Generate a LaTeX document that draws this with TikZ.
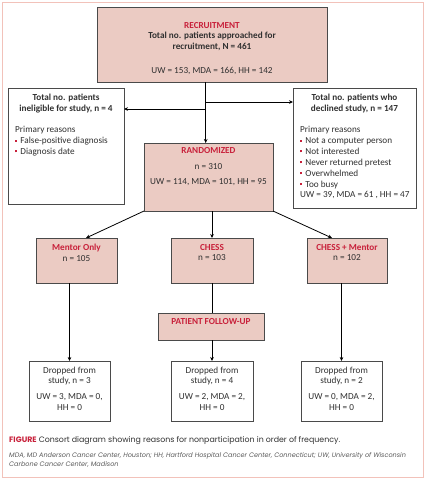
\documentclass[tikz,border=0pt]{standalone}
\usepackage{fontspec}
\setmainfont{Carlito}
\newfontfamily\capfont{Poppins}
\usetikzlibrary{arrows.meta}
\definecolor{cred}{HTML}{C8203A}
\definecolor{cfill}{HTML}{EBCBC3}
\definecolor{cgray}{HTML}{4A4A4A}
\definecolor{cframe}{HTML}{F2C2BA}
\definecolor{ctext}{HTML}{303030}
\newcommand{\bul}{\textcolor{cred}{\rule[0.2em]{0.22em}{0.22em}}\hspace{0.35em}}
\begin{document}
\begin{tikzpicture}[x=1pt,y=-1pt,
  pbox/.style={draw=cgray,line width=0.8pt,fill=cfill,inner sep=0pt,outer sep=0pt},
  wbox/.style={draw=cgray,line width=0.8pt,fill=white,inner sep=0pt,outer sep=0pt},
  txt/.style={inner sep=0pt,font=\fontsize{9.2}{10.9}\selectfont,text=ctext},
  btxt/.style={txt,font=\fontsize{9.2}{10.9}\selectfont\bfseries,align=center},
  arr/.style={line width=0.8pt,-{Stealth[length=4pt,width=3.6pt]}},
  ln/.style={line width=0.8pt}]
\useasboundingbox (0,0) rectangle (426,480);
\draw[cframe,line width=1.2pt] (2.5,2.5) rectangle (423.5,477.5);
% boxes
\node[pbox,minimum width=230,minimum height=75] (rec) at (212,44.5) {};
\node[wbox,minimum width=116,minimum height=116] (inel) at (66,146) {};
\node[wbox,minimum width=123,minimum height=120] (decl) at (354.5,148) {};
\node[pbox,minimum width=129,minimum height=68] (rand) at (208.5,177) {};
\node[pbox,minimum width=81,minimum height=45] (ment) at (76.5,260.5) {};
\node[pbox,minimum width=82,minimum height=45] (chess) at (212,260.5) {};
\node[pbox,minimum width=80,minimum height=45] (cm) at (347,260.5) {};
\node[pbox,minimum width=106,minimum height=27] (fu) at (211,326.5) {};
\node[wbox,minimum width=81,minimum height=60] (d1) at (69.5,391) {};
\node[wbox,minimum width=82,minimum height=60] (d2) at (212,391) {};
\node[wbox,minimum width=81,minimum height=60] (d3) at (341.5,391) {};
% texts
\node[btxt] (trec) at (212,48.5) {\textcolor{cred}{RECRUITMENT}\\Total no. patients approached for\\recruitment, N = 461\\[13pt]\mdseries UW = 153, MDA = 166, HH = 142};
\node[btxt] (tinel) at (66,103.5) {Total no. patients\\ineligible for study, n = 4};
\node[txt,anchor=north west,align=left] (linel) at (15,126) {Primary reasons\\\bul False-positive diagnosis\\\bul Diagnosis date};
\node[btxt] (tdecl) at (354.5,103.5) {Total no. patients who\\declined study, n = 147};
\node[txt,anchor=north west,align=left] (ldecl) at (300,126) {Primary reasons\\\bul Not a computer person\\\bul Not interested\\\bul Never returned pretest\\\bul Overwhelmed\\\bul Too busy\\ UW = 39, MDA = 61 , HH = 47};
\node[btxt] (trand) at (208.5,166.5) {\textcolor{cred}{RANDOMIZED}\\[5pt]\mdseries n = 310\\[4.5pt]\mdseries UW = 114, MDA = 101, HH = 95};
\node[btxt] (tment) at (76.5,252.5) {\textcolor{cred}{Mentor Only}\\\mdseries n = 105};
\node[btxt] (tchess) at (212,252.5) {\textcolor{cred}{CHESS}\\\mdseries n = 103};
\node[btxt] (tcm) at (347,252.5) {\textcolor{cred}{CHESS + Mentor}\\\mdseries n = 102};
\node[btxt] (tfu) at (211,322) {\textcolor{cred}{PATIENT FOLLOW-UP}};
\node[txt,align=center] (td1) at (69.5,388.5) {Dropped from\\study, n = 3\\[4.5pt]UW = 3, MDA = 0,\\HH = 0};
\node[txt,align=center] (td2) at (212,388.5) {Dropped from\\study, n = 4\\[4.5pt]UW = 2, MDA = 2,\\HH = 0};
\node[txt,align=center] (td3) at (341.5,388.5) {Dropped from\\study, n = 2\\[4.5pt]UW = 0, MDA = 2,\\HH = 0};
% connectors
\coordinate (jx) at (205.7,0);
\coordinate (jl) at (205.7,109);
\coordinate (jr) at (205.7,102);
\coordinate (mx) at (86,0);
\coordinate (cx) at (332,0);
\draw[arr] (rec.south -| jx) -- (rand.north -| jx);
\draw[arr] (jl) -- (inel.east |- jl);
\draw[arr] (jr) -- (decl.west |- jr);
\draw[arr] (rand.south west) -- (ment.north -| mx);
\draw[arr] (rand.south -| chess.north) -- (chess.north);
\draw[arr] (rand.south east) -- (cm.north -| cx);
\draw[arr] (ment.south -| d1.north) -- (d1.north);
\draw[ln] (chess.south) -- (fu.north -| chess.south);
\draw[arr] (fu.south -| d2.north) -- (d2.north);
\draw[arr] (d3.north |- cm.south) -- (d3.north);
% caption
\node[inner sep=0pt,anchor=west,font=\capfont\fontsize{7.85}{9}\selectfont,text=ctext] (cap) at (9,441) {\textcolor{cred}{\bfseries FIGURE} Consort diagram showing reasons for nonparticipation in order of frequency.};
\node[inner sep=0pt,anchor=north west,align=left,font=\capfont\itshape\fontsize{6.5}{9}\selectfont,text=ctext!80] (foot) at (9,452) {MDA, MD Anderson Cancer Center, Houston; HH, Hartford Hospital Cancer Center, Connecticut; UW, University of Wisconsin\\Carbone Cancer Center, Madison};
\end{tikzpicture}
\end{document}
